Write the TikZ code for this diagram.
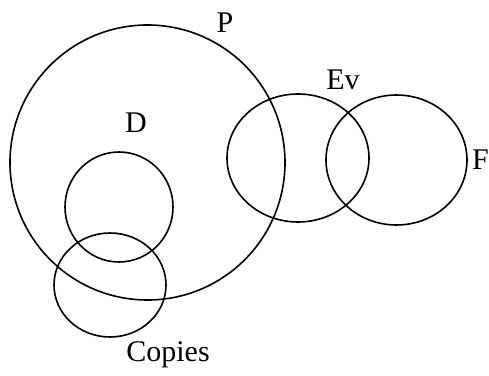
\documentclass[tikz,border=0pt]{standalone}
\usepackage{fontspec}
\setmainfont{Liberation Serif}
\usepackage{tikz}
\usetikzlibrary{shapes.geometric, positioning}

\begin{document}
\begin{tikzpicture}[
    x=1pt, y=1pt,
    setring/.style={ellipse, draw, line width=1.6pt, inner sep=0pt},
    setname/.style={font=\fontsize{30}{32}\selectfont, inner sep=0pt}
]
\useasboundingbox (0,0) rectangle (489,375);

% sets
\node[setring, minimum width=275pt, minimum height=275pt] (p) at (147.5,212.5) {};
\node[setring, minimum width=108pt, minimum height=110pt] (d) at (119,168) {};
\node[setring, minimum width=112pt, minimum height=104pt] (cp) at (110,90) {};
\node[setring, minimum width=142pt, minimum height=128pt] (ev) at (298,217) {};
\node[setring, minimum width=141pt, minimum height=130pt] (f) at (396.5,215) {};

% names
\node[setname] (pname) at (225,352) {P};
\node[setname] (dname) at (136,252) {D};
\node[setname] (evname) at (343,295) {Ev};
\node[setname, anchor=west] (fname) at (472,215) {F};
\node[setname] (cpname) at (168,20) {Copies};

\end{tikzpicture}
\end{document}
